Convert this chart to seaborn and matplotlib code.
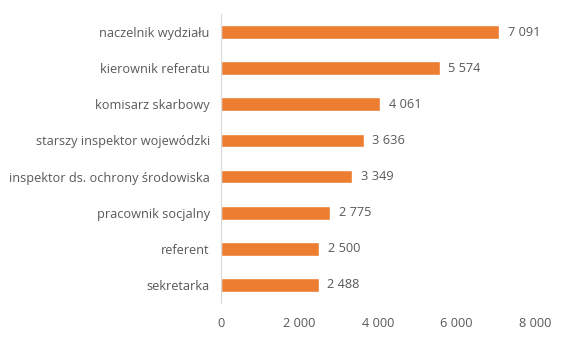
import matplotlib
matplotlib.use("Agg")
import matplotlib.pyplot as plt
import seaborn as sns
import pandas as pd

stanowiska = ["naczelnik wydziału", "kierownik referatu", "komisarz skarbowy",
              "starszy inspektor wojewódzki", "inspektor ds. ochrony środowiska",
              "pracownik socjalny", "referent", "sekretarka"]
wynagrodzenie = [7091, 5574, 4061, 3636, 3349, 2775, 2500, 2488]
x_ticks = [0, 2000, 4000, 6000, 8000]

df = pd.DataFrame({"stanowisko": stanowiska, "kwota": wynagrodzenie})

def fmt(v):
    return f"{v:,.0f}".replace(",", " ")

sns.set_style("white")
plt.rcParams["font.family"] = ["Open Sans", "DejaVu Sans"]
txt = "#595959"
fs = 9.2

fig = plt.figure(figsize=(5.86, 3.51), dpi=100)
ax = fig.add_axes([0.377, 0.137, 0.536, 0.823])
sns.barplot(data=df, x="kwota", y="stanowisko", color="#ED7D31", width=0.38,
            saturation=1, ax=ax)

for i, v in enumerate(wynagrodzenie):
    ax.text(v + 220, i, fmt(v), va="center", ha="left", fontsize=fs, color=txt)

ax.set_xlim(0, 8000)
ax.set_ylim(7.5, -0.5)
ax.set_xticks(x_ticks)
ax.set_xticklabels([fmt(t) for t in x_ticks], fontsize=fs, color=txt)
ax.tick_params(axis="y", labelsize=fs, labelcolor=txt, length=0, pad=8)
ax.tick_params(axis="x", length=0, pad=10)
ax.set_xlabel("")
ax.set_ylabel("")
for s in ["top", "right", "bottom"]:
    ax.spines[s].set_visible(False)
ax.spines["left"].set_color("#D9D9D9")
ax.spines["left"].set_linewidth(0.8)

fig.savefig("out.png", dpi=100)
